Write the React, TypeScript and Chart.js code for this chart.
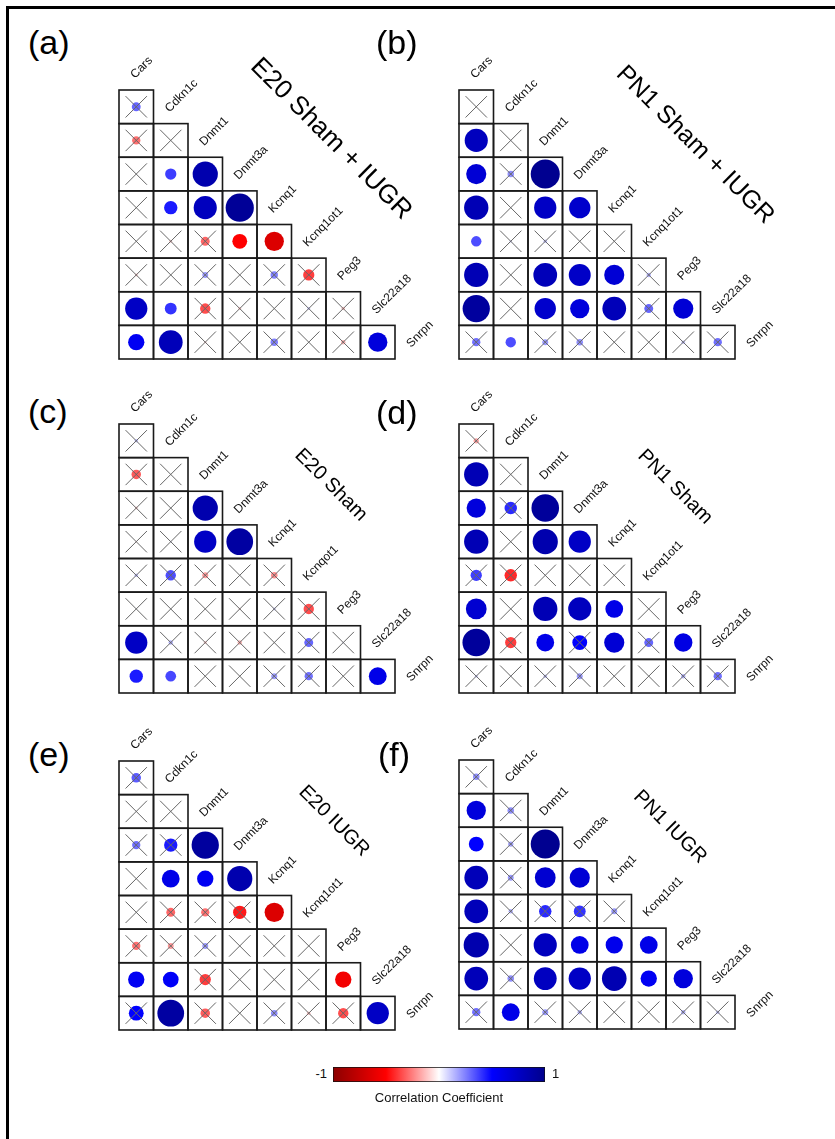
import React, { useEffect, useRef } from "react";
import { Chart, registerables } from "chart.js";

Chart.register(...registerables);

const FONT = '"Liberation Sans", Arial, Helvetica, sans-serif';

// Gene names along the diagonal (first column label .. last row label)
const geneLabels = ["Cars", "Cdkn1c", "Dnmt1", "Dnmt3a", "Kcnq1", "Kcnq1ot1", "Peg3", "Slc22a18", "Snrpn"];
const geneLabelsE20Sham = ["Cars", "Cdkn1c", "Dnmt1", "Dnmt3a", "Kcnq1", "Kcnqot1", "Peg3", "Slc22a18", "Snrpn"];

// Lower-triangle correlation coefficients: row i = gene i+1, column j = gene j
const corrE20ShamIugr = [
  [0.3],
  [-0.28, 0.02],
  [0.03, 0.38, 0.85],
  [0.02, 0.45, 0.78, 0.95],
  [0.02, -0.1, -0.3, -0.5, -0.65],
  [-0.1, 0.02, 0.2, 0.02, 0.25, -0.38],
  [0.75, 0.4, -0.35, -0.1, 0.02, 0.1, -0.12],
  [0.55, 0.8, -0.08, 0.02, 0.25, 0.02, -0.15, 0.65],
];
// "1" = significant, "0" = crossed out
const sigE20ShamIugr = ["0", "00", "011", "0111", "00011", "000000", "1100000", "11000001"];

const corrPn1ShamIugr = [
  [0.02],
  [0.78, 0.05],
  [0.68, 0.22, 0.98],
  [0.82, 0.02, 0.75, 0.72],
  [0.35, 0.08, 0.12, 0.03, -0.03],
  [0.82, 0.02, 0.8, 0.74, 0.68, 0.15],
  [0.92, 0.02, 0.72, 0.65, 0.8, 0.3, 0.68],
  [0.28, 0.35, 0.2, 0.22, 0.02, 0.02, 0.12, 0.28],
];
const sigPn1ShamIugr = ["0", "10", "101", "1011", "10000", "101110", "1011101", "01000000"];

const corrE20Sham = [
  [0.12],
  [-0.32, 0.02],
  [-0.1, 0.02, 0.85],
  [-0.06, 0.06, 0.75, 0.9],
  [0.12, 0.35, -0.2, -0.03, -0.22],
  [0.02, 0.02, 0.02, -0.08, 0.1, -0.35],
  [0.75, 0.15, -0.1, -0.15, 0.02, 0.3, 0.06],
  [0.45, 0.36, 0.02, 0.02, 0.2, 0.28, 0.02, 0.6],
];
const sigE20Sham = ["0", "00", "001", "0011", "00000", "000000", "1000000", "11000001"];

const corrPn1Sham = [
  [-0.18],
  [0.82, 0.02],
  [0.65, 0.42, 0.93],
  [0.82, 0.02, 0.85, 0.75],
  [0.38, -0.42, 0.02, 0.02, -0.03],
  [0.7, 0.02, 0.82, 0.78, 0.6, 0.02],
  [0.93, -0.38, 0.6, 0.5, 0.68, 0.3, 0.62],
  [0.1, 0.06, 0.12, 0.2, 0.05, 0.02, 0.15, 0.28],
];
const sigPn1Sham = ["0", "10", "101", "1011", "00000", "101110", "1010101", "00000000"];

const corrE20Iugr = [
  [0.32],
  [0.02, 0.02],
  [0.28, 0.45, 0.92],
  [0.03, 0.6, 0.55, 0.85],
  [-0.03, -0.3, -0.28, -0.45, -0.65],
  [-0.28, -0.2, 0.2, 0.02, 0.02, -0.03],
  [0.55, 0.53, -0.38, 0.02, 0.02, 0.02, -0.55],
  [0.5, 0.9, -0.32, 0.02, 0.22, -0.12, -0.35, 0.75],
];
const sigE20Iugr = ["0", "00", "001", "0111", "00001", "000000", "1100001", "01000001"];

const corrPn1Iugr = [
  [0.22],
  [0.65, 0.22],
  [0.5, 0.18, 0.98],
  [0.8, 0.2, 0.7, 0.68],
  [0.8, 0.15, 0.42, 0.4, 0.2],
  [0.85, 0.02, 0.78, 0.6, 0.58, 0.6],
  [0.8, 0.22, 0.77, 0.75, 0.83, 0.55, 0.65],
  [0.28, 0.6, 0.2, 0.15, 0.02, 0.02, 0.15, 0.12],
];
const sigPn1Iugr = ["0", "10", "101", "1011", "10000", "101111", "1011111", "01000000"];

// Diverging palette
const paletteStops = [-1, -0.5, 0, 0.5, 1];
const paletteColors = [
  [139, 0, 0],
  [255, 0, 0],
  [255, 255, 255],
  [0, 0, 255],
  [0, 0, 139],
];
const colorbarRange = [-1, 1];
const colorbarTitle = "Correlation Coefficient";

function rgb(c: number[]) {
  return `rgb(${Math.round(c[0])},${Math.round(c[1])},${Math.round(c[2])})`;
}

function corrColor(v: number) {
  const t = Math.max(-1, Math.min(1, v));
  for (let k = 0; k < paletteStops.length - 1; k++) {
    if (t >= paletteStops[k] && t <= paletteStops[k + 1]) {
      const f = (t - paletteStops[k]) / (paletteStops[k + 1] - paletteStops[k]);
      const a = paletteColors[k];
      const b = paletteColors[k + 1];
      return rgb([a[0] + (b[0] - a[0]) * f, a[1] + (b[1] - a[1]) * f, a[2] + (b[2] - a[2]) * f]);
    }
  }
  return rgb(paletteColors[2]);
}

const GRID_W = 276;
const GRID_H = 269;
const PAD = { left: 10, top: 50, right: 74, bottom: 16 };
const CANVAS_W = PAD.left + GRID_W + PAD.right;
const CANVAS_H = PAD.top + GRID_H + PAD.bottom;

const panels = [
  { tag: "(a)", title: "E20 Sham + IUGR", titleSize: 26, values: corrE20ShamIugr, sig: sigE20ShamIugr, labels: geneLabels, gridLeft: 119, gridTop: 90, titleDx: 212, titleDy: 49, tagLeft: 28, tagTop: 25 },
  { tag: "(b)", title: "PN1 Sham + IUGR", titleSize: 25, values: corrPn1ShamIugr, sig: sigPn1ShamIugr, labels: geneLabels, gridLeft: 459, gridTop: 90, titleDx: 236, titleDy: 55, tagLeft: 376, tagTop: 25 },
  { tag: "(c)", title: "E20 Sham", titleSize: 20, values: corrE20Sham, sig: sigE20Sham, labels: geneLabelsE20Sham, gridLeft: 119, gridTop: 424, titleDx: 212, titleDy: 61, tagLeft: 28, tagTop: 394 },
  { tag: "(d)", title: "PN1 Sham", titleSize: 20, values: corrPn1Sham, sig: sigPn1Sham, labels: geneLabels, gridLeft: 459, gridTop: 424, titleDx: 216, titleDy: 63, tagLeft: 376, tagTop: 395 },
  { tag: "(e)", title: "E20 IUGR", titleSize: 20, values: corrE20Iugr, sig: sigE20Iugr, labels: geneLabels, gridLeft: 119, gridTop: 761, titleDx: 215, titleDy: 60, tagLeft: 28, tagTop: 737 },
  { tag: "(f)", title: "PN1 IUGR", titleSize: 20, values: corrPn1Iugr, sig: sigPn1Iugr, labels: geneLabels, gridLeft: 459, gridTop: 760, titleDx: 211, titleDy: 67, tagLeft: 378, tagTop: 737 },
];

function cellWidth(chart: any) {
  const xs = chart.scales.x;
  return xs.getPixelForValue(1) - xs.getPixelForValue(0);
}

// Draws crosses, cell frames, diagonal gene names and the rotated title
const corrGridPlugin = {
  id: "corrGrid",
  afterDatasetsDraw(chart: any, _args: any, opts: any) {
    const { ctx, chartArea } = chart;
    const xs = chart.scales.x;
    const ys = chart.scales.y;
    const cw = cellWidth(chart);
    const ch = ys.getPixelForValue(1) - ys.getPixelForValue(0);
    const pts = chart.data.datasets[0].data;
    ctx.save();

    // crosses over non-significant cells
    ctx.strokeStyle = "#666";
    ctx.lineWidth = 1;
    const s = cw * 0.31;
    pts.forEach((p: any) => {
      if (p.sig) return;
      const cx = xs.getPixelForValue(p.x);
      const cy = ys.getPixelForValue(p.y);
      ctx.beginPath();
      ctx.moveTo(cx - s, cy - s);
      ctx.lineTo(cx + s, cy + s);
      ctx.moveTo(cx + s, cy - s);
      ctx.lineTo(cx - s, cy + s);
      ctx.stroke();
    });

    // cell frames
    ctx.strokeStyle = "#1a1a1a";
    ctx.lineWidth = 1.6;
    pts.forEach((p: any) => {
      const l = xs.getPixelForValue(p.x - 0.5);
      const t = ys.getPixelForValue(p.y - 0.5);
      ctx.strokeRect(l, t, cw, ch);
    });

    // gene names on the diagonal
    ctx.fillStyle = "#111";
    ctx.font = `12px ${FONT}`;
    ctx.textAlign = "left";
    ctx.textBaseline = "alphabetic";
    opts.labels.forEach((name: string, k: number) => {
      const lx = xs.getPixelForValue(k - 0.5) + 16;
      const ly = ys.getPixelForValue(k - 1 + 0.5) - 11;
      ctx.save();
      ctx.translate(lx, ly);
      ctx.rotate(-Math.PI / 4);
      ctx.fillText(name, 0, 0);
      ctx.restore();
    });

    // panel title
    ctx.save();
    ctx.translate(chartArea.left + opts.titleDx, chartArea.top + opts.titleDy);
    ctx.rotate(Math.PI / 4);
    ctx.font = `${opts.titleSize}px ${FONT}`;
    ctx.fillStyle = "#000";
    ctx.textAlign = "center";
    ctx.textBaseline = "middle";
    ctx.fillText(opts.title, 0, 0);
    ctx.restore();

    ctx.restore();
  },
};

function CorrPanel({ cfg }: { cfg: any }) {
  const ref = useRef<HTMLCanvasElement | null>(null);
  useEffect(() => {
    const points: any[] = [];
    cfg.values.forEach((row: number[], i: number) =>
      row.forEach((v: number, j: number) => points.push({ x: j, y: i, v, sig: cfg.sig[i][j] === "1" }))
    );
    const chart = new Chart(ref.current as HTMLCanvasElement, {
      type: "scatter",
      data: {
        datasets: [
          {
            data: points,
            showLine: false,
            pointStyle: "circle",
            pointBorderWidth: 0,
            pointHoverRadius: 0,
            pointBackgroundColor: (c: any) => (c.raw ? corrColor(c.raw.v) : "#fff"),
            pointRadius: (c: any) => (c.raw ? Math.abs(c.raw.v) * 0.43 * cellWidth(c.chart) : 0),
          } as any,
        ],
      },
      options: {
        responsive: false,
        animation: false,
        devicePixelRatio: 1,
        events: [],
        layout: { padding: PAD },
        scales: {
          x: { type: "linear", min: -0.5, max: 7.5, display: false },
          y: { type: "linear", min: -0.5, max: 7.5, reverse: true, display: false },
        },
        plugins: {
          legend: { display: false },
          tooltip: { enabled: false },
          corrGrid: { labels: cfg.labels, title: cfg.title, titleSize: cfg.titleSize, titleDx: cfg.titleDx, titleDy: cfg.titleDy },
        } as any,
      },
      plugins: [corrGridPlugin],
    });
    return () => chart.destroy();
  }, []);
  return (
    <>
      <canvas
        ref={ref}
        width={CANVAS_W}
        height={CANVAS_H}
        style={{ position: "absolute", left: cfg.gridLeft - PAD.left, top: cfg.gridTop - PAD.top }}
      />
      <div
        style={{
          position: "absolute",
          left: cfg.tagLeft,
          top: cfg.tagTop,
          font: `34px ${FONT}`,
          lineHeight: 1,
          color: "#000",
          whiteSpace: "nowrap",
        }}
      >
        {cfg.tag}
      </div>
    </>
  );
}

function ColorBar() {
  const ref = useRef<HTMLCanvasElement | null>(null);
  useEffect(() => {
    const chart = new Chart(ref.current as HTMLCanvasElement, {
      type: "bar",
      data: {
        labels: [colorbarTitle],
        datasets: [
          {
            data: [[colorbarRange[0], colorbarRange[1]]] as any,
            backgroundColor: (c: any) => {
              const ca = c.chart.chartArea;
              if (!ca) return "#fff";
              const g = c.chart.ctx.createLinearGradient(ca.left, 0, ca.right, 0);
              paletteStops.forEach((s, i) =>
                g.addColorStop((s - colorbarRange[0]) / (colorbarRange[1] - colorbarRange[0]), rgb(paletteColors[i]))
              );
              return g;
            },
            borderColor: "#111",
            borderWidth: 1,
            borderSkipped: false,
            barPercentage: 1,
            categoryPercentage: 1,
          } as any,
        ],
      },
      options: {
        indexAxis: "y",
        responsive: false,
        animation: false,
        devicePixelRatio: 1,
        events: [],
        layout: { padding: 0 },
        scales: {
          x: { type: "linear", min: colorbarRange[0], max: colorbarRange[1], display: false },
          y: { display: false },
        },
        plugins: { legend: { display: false }, tooltip: { enabled: false } },
      },
    });
    return () => chart.destroy();
  }, []);
  const txt = { position: "absolute" as const, font: `13px ${FONT}`, lineHeight: 1, color: "#111", whiteSpace: "nowrap" as const };
  return (
    <>
      <canvas ref={ref} width={212} height={15} style={{ position: "absolute", left: 333, top: 1067 }} />
      <div style={{ ...txt, left: 287, width: 40, top: 1067, textAlign: "right" }}>{colorbarRange[0]}</div>
      <div style={{ ...txt, left: 552, top: 1067 }}>{colorbarRange[1]}</div>
      <div style={{ ...txt, left: 339, width: 200, top: 1091, textAlign: "center" }}>{colorbarTitle}</div>
    </>
  );
}

export default function App() {
  return (
    <div style={{ position: "absolute", left: 0, top: 0, width: 835, height: 1139, background: "#fff", overflow: "hidden" }}>
      <div style={{ position: "absolute", left: 6, top: 6, width: 900, height: 1200, borderTop: "3px solid #000", borderLeft: "3px solid #000" }} />
      {panels.map((p) => (
        <CorrPanel key={p.tag} cfg={p} />
      ))}
      <ColorBar />
    </div>
  );
}
